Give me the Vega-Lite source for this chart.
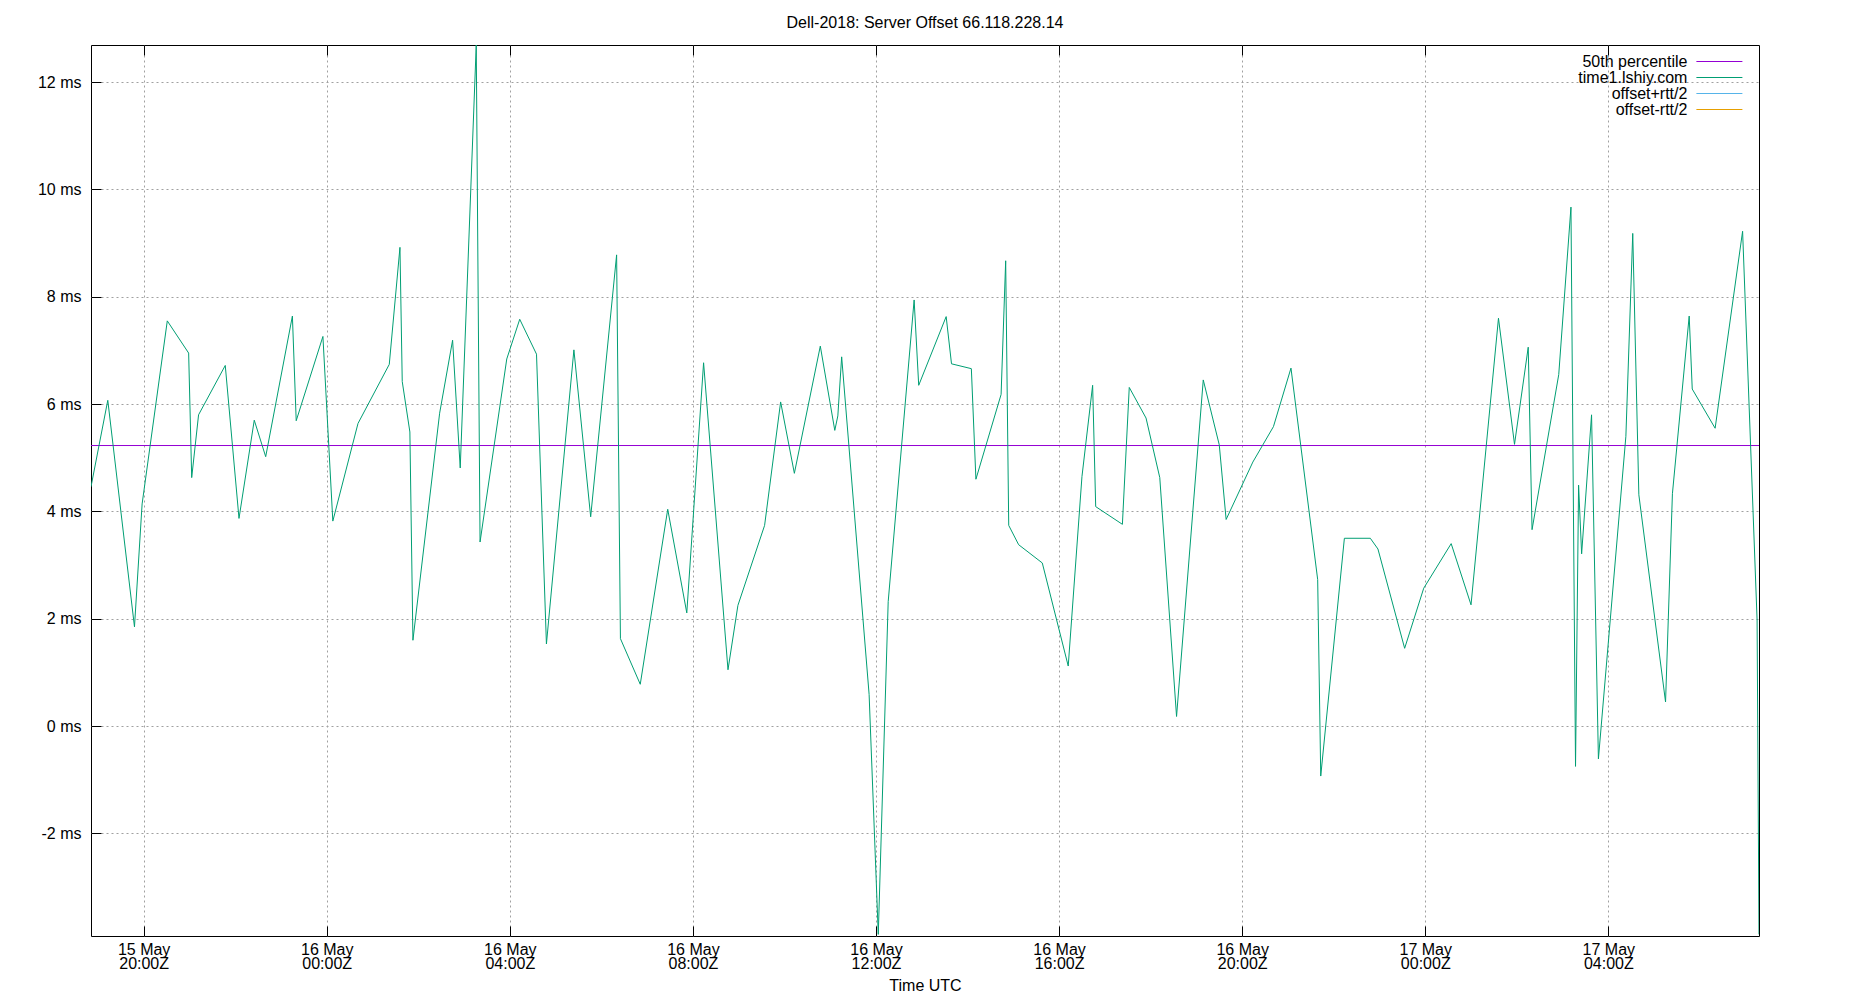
{
  "$schema": "https://vega.github.io/schema/vega-lite/v6.json",
  "width": 1668,
  "height": 891,
  "autosize": "none",
  "padding": {"left": 91, "top": 45, "right": 91, "bottom": 64},
  "background": "white",
  "title": {"text": "Dell-2018: Server Offset 66.118.228.14", "font": "Liberation Sans", "fontSize": 16, "fontWeight": "normal", "color": "black", "offset": 14, "anchor": "middle"},
  "config": {
    "view": {"stroke": "black", "strokeWidth": 1},
    "font": "Liberation Sans",
    "axis": {"labelFont": "Liberation Sans", "labelFontSize": 16, "labelColor": "black", "titleFont": "Liberation Sans", "titleFontSize": 16, "titleFontWeight": "normal", "titleColor": "black", "domain": false, "tickColor": "black", "tickSize": -10, "tickWidth": 1, "gridColor": "#a0a0a0", "gridDash": [2, 3], "gridWidth": 1},
    "legend": {"title": null, "orient": "none", "legendX": 1620.4, "legendY": 8.5, "symbolType": "M-3.538,0H3.538", "symbolSize": 169, "symbolStrokeWidth": 1, "labelAlign": "right", "labelOffset": -40, "labelFont": "Liberation Sans", "labelFontSize": 16, "labelColor": "black", "rowPadding": 0, "padding": 0}
  },
  "datasets": {
    "median": [
      {"time": "2023-05-15T18:51:00Z", "offset_ms": 5.228, "series": "50th percentile"},
      {"time": "2023-05-17T07:17:30Z", "offset_ms": 5.228, "series": "50th percentile"}
    ],
    "offset": [
      {"time": "2023-05-15T18:51:00Z", "offset_ms": 4.46, "series": "time1.lshiy.com"},
      {"time": "2023-05-15T19:13:00Z", "offset_ms": 6.07, "series": "time1.lshiy.com"},
      {"time": "2023-05-15T19:48:00Z", "offset_ms": 1.85, "series": "time1.lshiy.com"},
      {"time": "2023-05-15T19:58:00Z", "offset_ms": 4.14, "series": "time1.lshiy.com"},
      {"time": "2023-05-15T20:31:00Z", "offset_ms": 7.55, "series": "time1.lshiy.com"},
      {"time": "2023-05-15T20:59:00Z", "offset_ms": 6.95, "series": "time1.lshiy.com"},
      {"time": "2023-05-15T21:03:00Z", "offset_ms": 4.63, "series": "time1.lshiy.com"},
      {"time": "2023-05-15T21:12:00Z", "offset_ms": 5.80, "series": "time1.lshiy.com"},
      {"time": "2023-05-15T21:47:00Z", "offset_ms": 6.72, "series": "time1.lshiy.com"},
      {"time": "2023-05-15T22:05:00Z", "offset_ms": 3.87, "series": "time1.lshiy.com"},
      {"time": "2023-05-15T22:25:00Z", "offset_ms": 5.70, "series": "time1.lshiy.com"},
      {"time": "2023-05-15T22:40:00Z", "offset_ms": 5.02, "series": "time1.lshiy.com"},
      {"time": "2023-05-15T23:15:00Z", "offset_ms": 7.64, "series": "time1.lshiy.com"},
      {"time": "2023-05-15T23:20:00Z", "offset_ms": 5.69, "series": "time1.lshiy.com"},
      {"time": "2023-05-15T23:55:00Z", "offset_ms": 7.26, "series": "time1.lshiy.com"},
      {"time": "2023-05-16T00:08:00Z", "offset_ms": 3.82, "series": "time1.lshiy.com"},
      {"time": "2023-05-16T00:41:00Z", "offset_ms": 5.64, "series": "time1.lshiy.com"},
      {"time": "2023-05-16T01:22:00Z", "offset_ms": 6.74, "series": "time1.lshiy.com"},
      {"time": "2023-05-16T01:36:00Z", "offset_ms": 8.92, "series": "time1.lshiy.com"},
      {"time": "2023-05-16T01:39:00Z", "offset_ms": 6.42, "series": "time1.lshiy.com"},
      {"time": "2023-05-16T01:49:00Z", "offset_ms": 5.48, "series": "time1.lshiy.com"},
      {"time": "2023-05-16T01:53:00Z", "offset_ms": 1.60, "series": "time1.lshiy.com"},
      {"time": "2023-05-16T02:28:00Z", "offset_ms": 5.83, "series": "time1.lshiy.com"},
      {"time": "2023-05-16T02:45:00Z", "offset_ms": 7.19, "series": "time1.lshiy.com"},
      {"time": "2023-05-16T02:55:00Z", "offset_ms": 4.81, "series": "time1.lshiy.com"},
      {"time": "2023-05-16T03:16:00Z", "offset_ms": 12.69, "series": "time1.lshiy.com"},
      {"time": "2023-05-16T03:21:00Z", "offset_ms": 3.43, "series": "time1.lshiy.com"},
      {"time": "2023-05-16T03:56:00Z", "offset_ms": 6.84, "series": "time1.lshiy.com"},
      {"time": "2023-05-16T04:13:00Z", "offset_ms": 7.58, "series": "time1.lshiy.com"},
      {"time": "2023-05-16T04:35:00Z", "offset_ms": 6.93, "series": "time1.lshiy.com"},
      {"time": "2023-05-16T04:48:00Z", "offset_ms": 1.53, "series": "time1.lshiy.com"},
      {"time": "2023-05-16T05:24:00Z", "offset_ms": 7.01, "series": "time1.lshiy.com"},
      {"time": "2023-05-16T05:46:00Z", "offset_ms": 3.90, "series": "time1.lshiy.com"},
      {"time": "2023-05-16T06:20:00Z", "offset_ms": 8.78, "series": "time1.lshiy.com"},
      {"time": "2023-05-16T06:25:00Z", "offset_ms": 1.63, "series": "time1.lshiy.com"},
      {"time": "2023-05-16T06:51:00Z", "offset_ms": 0.78, "series": "time1.lshiy.com"},
      {"time": "2023-05-16T07:27:00Z", "offset_ms": 4.04, "series": "time1.lshiy.com"},
      {"time": "2023-05-16T07:52:00Z", "offset_ms": 2.11, "series": "time1.lshiy.com"},
      {"time": "2023-05-16T08:14:00Z", "offset_ms": 6.77, "series": "time1.lshiy.com"},
      {"time": "2023-05-16T08:46:00Z", "offset_ms": 1.05, "series": "time1.lshiy.com"},
      {"time": "2023-05-16T08:59:00Z", "offset_ms": 2.25, "series": "time1.lshiy.com"},
      {"time": "2023-05-16T09:34:00Z", "offset_ms": 3.74, "series": "time1.lshiy.com"},
      {"time": "2023-05-16T09:55:00Z", "offset_ms": 6.04, "series": "time1.lshiy.com"},
      {"time": "2023-05-16T10:13:00Z", "offset_ms": 4.71, "series": "time1.lshiy.com"},
      {"time": "2023-05-16T10:47:00Z", "offset_ms": 7.08, "series": "time1.lshiy.com"},
      {"time": "2023-05-16T11:06:00Z", "offset_ms": 5.51, "series": "time1.lshiy.com"},
      {"time": "2023-05-16T11:10:00Z", "offset_ms": 5.78, "series": "time1.lshiy.com"},
      {"time": "2023-05-16T11:15:00Z", "offset_ms": 6.88, "series": "time1.lshiy.com"},
      {"time": "2023-05-16T11:51:00Z", "offset_ms": 0.59, "series": "time1.lshiy.com"},
      {"time": "2023-05-16T12:03:00Z", "offset_ms": -3.88, "series": "time1.lshiy.com"},
      {"time": "2023-05-16T12:16:00Z", "offset_ms": 2.32, "series": "time1.lshiy.com"},
      {"time": "2023-05-16T12:50:00Z", "offset_ms": 7.94, "series": "time1.lshiy.com"},
      {"time": "2023-05-16T12:56:00Z", "offset_ms": 6.35, "series": "time1.lshiy.com"},
      {"time": "2023-05-16T13:32:00Z", "offset_ms": 7.63, "series": "time1.lshiy.com"},
      {"time": "2023-05-16T13:39:00Z", "offset_ms": 6.75, "series": "time1.lshiy.com"},
      {"time": "2023-05-16T14:05:00Z", "offset_ms": 6.66, "series": "time1.lshiy.com"},
      {"time": "2023-05-16T14:11:00Z", "offset_ms": 4.60, "series": "time1.lshiy.com"},
      {"time": "2023-05-16T14:44:00Z", "offset_ms": 6.18, "series": "time1.lshiy.com"},
      {"time": "2023-05-16T14:50:00Z", "offset_ms": 8.67, "series": "time1.lshiy.com"},
      {"time": "2023-05-16T14:54:00Z", "offset_ms": 3.74, "series": "time1.lshiy.com"},
      {"time": "2023-05-16T15:07:00Z", "offset_ms": 3.38, "series": "time1.lshiy.com"},
      {"time": "2023-05-16T15:38:00Z", "offset_ms": 3.04, "series": "time1.lshiy.com"},
      {"time": "2023-05-16T16:12:00Z", "offset_ms": 1.12, "series": "time1.lshiy.com"},
      {"time": "2023-05-16T16:30:00Z", "offset_ms": 4.65, "series": "time1.lshiy.com"},
      {"time": "2023-05-16T16:44:00Z", "offset_ms": 6.35, "series": "time1.lshiy.com"},
      {"time": "2023-05-16T16:48:00Z", "offset_ms": 4.09, "series": "time1.lshiy.com"},
      {"time": "2023-05-16T17:23:00Z", "offset_ms": 3.76, "series": "time1.lshiy.com"},
      {"time": "2023-05-16T17:32:00Z", "offset_ms": 6.31, "series": "time1.lshiy.com"},
      {"time": "2023-05-16T17:54:00Z", "offset_ms": 5.74, "series": "time1.lshiy.com"},
      {"time": "2023-05-16T18:12:00Z", "offset_ms": 4.63, "series": "time1.lshiy.com"},
      {"time": "2023-05-16T18:34:00Z", "offset_ms": 0.18, "series": "time1.lshiy.com"},
      {"time": "2023-05-16T19:09:00Z", "offset_ms": 6.45, "series": "time1.lshiy.com"},
      {"time": "2023-05-16T19:30:00Z", "offset_ms": 5.24, "series": "time1.lshiy.com"},
      {"time": "2023-05-16T19:39:00Z", "offset_ms": 3.85, "series": "time1.lshiy.com"},
      {"time": "2023-05-16T20:14:00Z", "offset_ms": 4.92, "series": "time1.lshiy.com"},
      {"time": "2023-05-16T20:41:00Z", "offset_ms": 5.58, "series": "time1.lshiy.com"},
      {"time": "2023-05-16T21:04:00Z", "offset_ms": 6.67, "series": "time1.lshiy.com"},
      {"time": "2023-05-16T21:39:00Z", "offset_ms": 2.73, "series": "time1.lshiy.com"},
      {"time": "2023-05-16T21:43:00Z", "offset_ms": -0.93, "series": "time1.lshiy.com"},
      {"time": "2023-05-16T22:14:00Z", "offset_ms": 3.50, "series": "time1.lshiy.com"},
      {"time": "2023-05-16T22:48:00Z", "offset_ms": 3.50, "series": "time1.lshiy.com"},
      {"time": "2023-05-16T22:58:00Z", "offset_ms": 3.30, "series": "time1.lshiy.com"},
      {"time": "2023-05-16T23:33:00Z", "offset_ms": 1.45, "series": "time1.lshiy.com"},
      {"time": "2023-05-16T23:58:00Z", "offset_ms": 2.57, "series": "time1.lshiy.com"},
      {"time": "2023-05-17T00:34:00Z", "offset_ms": 3.40, "series": "time1.lshiy.com"},
      {"time": "2023-05-17T01:00:00Z", "offset_ms": 2.26, "series": "time1.lshiy.com"},
      {"time": "2023-05-17T01:36:00Z", "offset_ms": 7.60, "series": "time1.lshiy.com"},
      {"time": "2023-05-17T01:57:00Z", "offset_ms": 5.25, "series": "time1.lshiy.com"},
      {"time": "2023-05-17T02:15:00Z", "offset_ms": 7.06, "series": "time1.lshiy.com"},
      {"time": "2023-05-17T02:20:00Z", "offset_ms": 3.66, "series": "time1.lshiy.com"},
      {"time": "2023-05-17T02:55:00Z", "offset_ms": 6.55, "series": "time1.lshiy.com"},
      {"time": "2023-05-17T03:11:00Z", "offset_ms": 9.67, "series": "time1.lshiy.com"},
      {"time": "2023-05-17T03:17:00Z", "offset_ms": -0.75, "series": "time1.lshiy.com"},
      {"time": "2023-05-17T03:21:00Z", "offset_ms": 4.49, "series": "time1.lshiy.com"},
      {"time": "2023-05-17T03:25:00Z", "offset_ms": 3.21, "series": "time1.lshiy.com"},
      {"time": "2023-05-17T03:38:00Z", "offset_ms": 5.80, "series": "time1.lshiy.com"},
      {"time": "2023-05-17T03:47:00Z", "offset_ms": -0.61, "series": "time1.lshiy.com"},
      {"time": "2023-05-17T04:23:00Z", "offset_ms": 5.40, "series": "time1.lshiy.com"},
      {"time": "2023-05-17T04:32:00Z", "offset_ms": 9.18, "series": "time1.lshiy.com"},
      {"time": "2023-05-17T04:40:00Z", "offset_ms": 4.31, "series": "time1.lshiy.com"},
      {"time": "2023-05-17T05:15:00Z", "offset_ms": 0.45, "series": "time1.lshiy.com"},
      {"time": "2023-05-17T05:24:00Z", "offset_ms": 4.33, "series": "time1.lshiy.com"},
      {"time": "2023-05-17T05:46:00Z", "offset_ms": 7.64, "series": "time1.lshiy.com"},
      {"time": "2023-05-17T05:50:00Z", "offset_ms": 6.28, "series": "time1.lshiy.com"},
      {"time": "2023-05-17T06:20:00Z", "offset_ms": 5.55, "series": "time1.lshiy.com"},
      {"time": "2023-05-17T06:56:00Z", "offset_ms": 9.22, "series": "time1.lshiy.com"},
      {"time": "2023-05-17T07:15:00Z", "offset_ms": 1.98, "series": "time1.lshiy.com"},
      {"time": "2023-05-17T07:17:30Z", "offset_ms": -3.88, "series": "time1.lshiy.com"}
    ]
  },
  "layer": [
    {
      "data": {"name": "median"},
      "mark": {"type": "line", "strokeWidth": 1, "clip": true},
      "encoding": {
        "x": {"field": "time", "type": "temporal",
          "scale": {"type": "utc", "domain": [{"year": 2023, "month": 5, "date": 15, "hours": 18, "minutes": 51, "utc": true}, {"year": 2023, "month": 5, "date": 17, "hours": 7, "minutes": 17, "seconds": 30, "utc": true}]},
          "axis": {"orient": "top", "labels": false, "grid": false, "title": null,
            "values": [
              {"year": 2023, "month": 5, "date": 15, "hours": 20, "utc": true},
              {"year": 2023, "month": 5, "date": 16, "hours": 0, "utc": true},
              {"year": 2023, "month": 5, "date": 16, "hours": 4, "utc": true},
              {"year": 2023, "month": 5, "date": 16, "hours": 8, "utc": true},
              {"year": 2023, "month": 5, "date": 16, "hours": 12, "utc": true},
              {"year": 2023, "month": 5, "date": 16, "hours": 16, "utc": true},
              {"year": 2023, "month": 5, "date": 16, "hours": 20, "utc": true},
              {"year": 2023, "month": 5, "date": 17, "hours": 0, "utc": true},
              {"year": 2023, "month": 5, "date": 17, "hours": 4, "utc": true}
            ]}},
        "y": {"field": "offset_ms", "type": "quantitative", "scale": {"domain": [-3.91, 12.69], "nice": false, "zero": false}, "axis": null},
        "color": {"field": "series", "type": "nominal",
          "scale": {"domain": ["50th percentile", "time1.lshiy.com", "offset+rtt/2", "offset-rtt/2"], "range": ["#9400d3", "#009e73", "#56b4e9", "#e69f00"]}}
      }
    },
    {
      "data": {"name": "offset"},
      "mark": {"type": "line", "strokeWidth": 1, "clip": true},
      "encoding": {
        "x": {"field": "time", "type": "temporal",
          "scale": {"type": "utc", "domain": [{"year": 2023, "month": 5, "date": 15, "hours": 18, "minutes": 51, "utc": true}, {"year": 2023, "month": 5, "date": 17, "hours": 7, "minutes": 17, "seconds": 30, "utc": true}]},
          "axis": {"orient": "bottom", "grid": true, "title": "Time UTC", "titlePadding": 6,
            "labelPadding": 15, "labelLineHeight": 14, "labelAlign": "center", "labelBaseline": "top",
            "labelExpr": "[utcFormat(datum.value, '%d %b'), utcFormat(datum.value, '%H:%MZ')]",
            "values": [
              {"year": 2023, "month": 5, "date": 15, "hours": 20, "utc": true},
              {"year": 2023, "month": 5, "date": 16, "hours": 0, "utc": true},
              {"year": 2023, "month": 5, "date": 16, "hours": 4, "utc": true},
              {"year": 2023, "month": 5, "date": 16, "hours": 8, "utc": true},
              {"year": 2023, "month": 5, "date": 16, "hours": 12, "utc": true},
              {"year": 2023, "month": 5, "date": 16, "hours": 16, "utc": true},
              {"year": 2023, "month": 5, "date": 16, "hours": 20, "utc": true},
              {"year": 2023, "month": 5, "date": 17, "hours": 0, "utc": true},
              {"year": 2023, "month": 5, "date": 17, "hours": 4, "utc": true}
            ]}},
        "y": {"field": "offset_ms", "type": "quantitative", "scale": {"domain": [-3.91, 12.69], "nice": false, "zero": false},
          "axis": {"orient": "left", "grid": true, "title": null, "values": [-2, 0, 2, 4, 6, 8, 10, 12], "labelExpr": "datum.value + ' ms'", "labelPadding": 20}},
        "color": {"field": "series", "type": "nominal",
          "scale": {"domain": ["50th percentile", "time1.lshiy.com", "offset+rtt/2", "offset-rtt/2"], "range": ["#9400d3", "#009e73", "#56b4e9", "#e69f00"]}}
      }
    }
  ],
  "resolve": {"axis": {"x": "independent", "y": "independent"}}
}
